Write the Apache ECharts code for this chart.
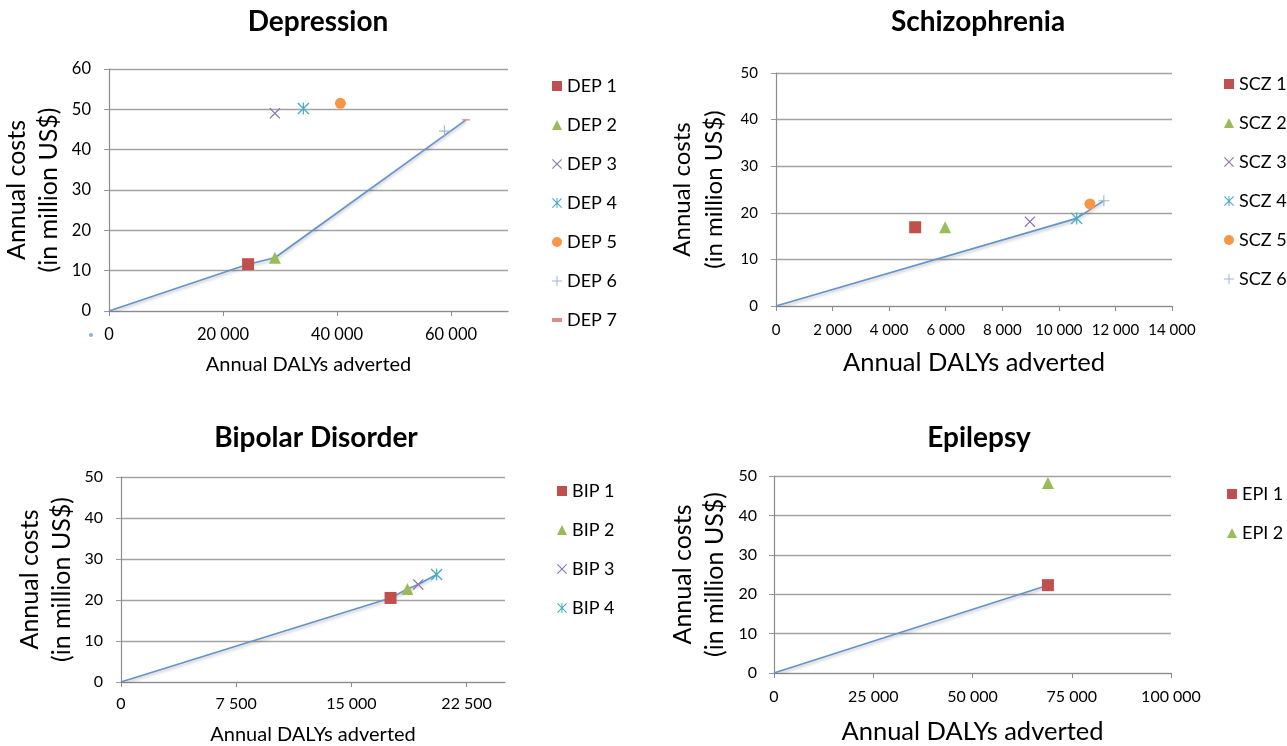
<!DOCTYPE html>
<html><head><meta charset="utf-8">
<script src="https://cdn.jsdelivr.net/npm/echarts@6/dist/echarts.min.js"></script>
<style>html,body{margin:0;padding:0;background:#fff}#c{width:1287px;height:746px}</style>
</head><body><div id="c"></div>
<script>
// ---------- DATA ----------
const depNames = ['DEP 1','DEP 2','DEP 3','DEP 4','DEP 5','DEP 6','DEP 7'];
const depX = [24400, 29100, 29100, 34100, 40600, 58850, 62640];
const depY = [11.6, 13.2, 49.0, 50.2, 51.5, 44.6, 47.4];
const depFrontX = [0, 24400, 29100, 62640];
const depFrontY = [0, 11.6, 13.2, 47.4];
const depXTicks = [0, 20000, 40000, 60000];

const sczNames = ['SCZ 1','SCZ 2','SCZ 3','SCZ 4','SCZ 5','SCZ 6'];
const sczX = [4920, 5980, 8975, 10630, 11100, 11590];
const sczY = [16.9, 16.9, 18.1, 18.8, 21.9, 22.6];
const sczFrontX = [0, 10630, 11590];
const sczFrontY = [0, 18.8, 22.6];
const sczXTicks = [0, 2000, 4000, 6000, 8000, 10000, 12000, 14000];

const bipNames = ['BIP 1','BIP 2','BIP 3','BIP 4'];
const bipX = [17550, 18650, 19350, 20550];
const bipY = [20.5, 22.7, 23.8, 26.2];
const bipFrontX = [0, 17550, 18650, 19350, 20550];
const bipFrontY = [0, 20.5, 22.7, 23.8, 26.2];
const bipXTicks = [0, 7500, 15000, 22500];

const epiNames = ['EPI 1','EPI 2'];
const epiX = [69000, 69000];
const epiY = [22.3, 48.2];
const epiFrontX = [0, 69000];
const epiFrontY = [0, 22.3];
const epiXTicks = [0, 25000, 50000, 75000, 100000];

const yTicks60 = [0, 10, 20, 30, 40, 50, 60];
const yTicks50 = [0, 10, 20, 30, 40, 50];

const titles = ['Depression', 'Schizophrenia', 'Bipolar Disorder', 'Epilepsy'];
const xTitle = 'Annual DALYs adverted';
const yTitle = 'Annual costs\n(in million US$)';

// ---------- STYLE ----------
const FONT = 'Lato, "Open Sans", sans-serif';
const SYM_X = 'path://M1.6,0L10,8.4L18.4,0L20,1.6L11.6,10L20,18.4L18.4,20L10,11.6L1.6,20L0,18.4L8.4,10L0,1.6Z';
const SYM_AST = 'path://M1.6,0L10,8.4L18.4,0L20,1.6L11.6,10L20,18.4L18.4,20L10,11.6L1.6,20L0,18.4L8.4,10L0,1.6Z M9,0H11V20H9Z';
const SYM_PLUS = 'path://M9,0H11V9H20V11H11V20H9V11H0V9H9Z';
const SYM_DASH = 'path://M0,0H20V8H0Z';
const markerStyles = [
  {symbol: 'rect', size: 12, color: '#C0504D'},
  {symbol: 'triangle', size: 12, color: '#9BBB59'},
  {symbol: SYM_X, size: 11, color: '#8C74AE'},
  {symbol: SYM_AST, size: 12, color: '#4BACC6'},
  {symbol: 'circle', size: 11, color: '#F79646'},
  {symbol: SYM_PLUS, size: 11, color: '#9DB6DB'},
  {symbol: SYM_DASH, size: [8, 3.2], color: '#E08A8C'}
];
const LINE_COLOR = '#6393CD';

function fmt(v) { return String(v).replace(/\B(?=(\d{3})+(?!\d))/g, ' '); }

const panels = [
  {names: depNames, xs: depX, ys: depY, fx: depFrontX, fy: depFrontY, xt: depXTicks, yt: yTicks60,
   grid: {left: 108, top: 69, width: 400, height: 242}, xmax: 70000, ymax: 60,
   title: [318, 8], legend: [552, 75], lblFont: 16.5, ymargin: 18, xmargin: 15,
   xNameFont: 20, xNameGap: 44, yNameFont: 25, yNameGap: 44},
  {names: sczNames, xs: sczX, ys: sczY, fx: sczFrontX, fy: sczFrontY, xt: sczXTicks, yt: yTicks50,
   grid: {left: 776, top: 73, width: 396, height: 233}, xmax: 14000, ymax: 50,
   title: [978, 8], legend: [1224, 73], lblFont: 15, ymargin: 18, xmargin: 17,
   xNameFont: 25.5, xNameGap: 44, yNameFont: 24, yNameGap: 46},
  {names: bipNames, xs: bipX, ys: bipY, fx: bipFrontX, fy: bipFrontY, xt: bipXTicks, yt: yTicks50,
   grid: {left: 121, top: 477, width: 384, height: 206}, xmax: 25000, ymax: 50,
   title: [316, 424], legend: [557, 480], lblFont: 16, ymargin: 18, xmargin: 14,
   xNameFont: 20, xNameGap: 43, yNameFont: 25, yNameGap: 43},
  {names: epiNames, xs: epiX, ys: epiY, fx: epiFrontX, fy: epiFrontY, xt: epiXTicks, yt: yTicks50,
   grid: {left: 774, top: 476, width: 397, height: 198}, xmax: 100000, ymax: 50,
   title: [979, 424], legend: [1227, 483], lblFont: 16, ymargin: 17, xmargin: 16,
   xNameFont: 25.5, xNameGap: 46, yNameFont: 25, yNameGap: 43}
];

const option = {
  backgroundColor: '#fff',
  animation: false,
  textStyle: {fontFamily: FONT},
  title: [], grid: [], xAxis: [], yAxis: [], legend: [], series: [],
  graphic: [{
    type: 'circle', left: 89, top: 333, silent: true,
    shape: {r: 2}, style: {fill: '#8FB0DC'}
  }]
};

panels.forEach((p, i) => {
  option.title.push({
    text: titles[i], left: p.title[0], top: p.title[1], textAlign: 'center', padding: 0,
    textStyle: {fontFamily: FONT, fontSize: 28, fontWeight: 'bold', color: '#000'}
  });
  option.grid.push(Object.assign({containLabel: false}, p.grid));
  option.xAxis.push({
    type: 'value', gridIndex: i, min: 0, max: p.xmax,
    name: xTitle, nameLocation: 'middle', nameGap: p.xNameGap,
    nameTextStyle: {fontFamily: FONT, fontSize: p.xNameFont, color: '#000'},
    axisLine: {show: true, lineStyle: {color: '#8c8c8c', width: 1.2}},
    axisTick: {show: true, length: 5, customValues: p.xt, lineStyle: {color: '#8c8c8c'}},
    axisLabel: {customValues: p.xt, formatter: fmt, margin: p.xmargin, color: '#000',
      fontFamily: FONT, fontSize: p.lblFont},
    splitLine: {show: false}
  });
  option.yAxis.push({
    type: 'value', gridIndex: i, min: 0, max: p.ymax, interval: 10,
    name: yTitle, nameLocation: 'middle', nameGap: p.yNameGap,
    nameTextStyle: {fontFamily: FONT, fontSize: p.yNameFont, lineHeight: 32, color: '#000'},
    axisLine: {show: true, lineStyle: {color: '#8c8c8c', width: 1.2}},
    axisTick: {show: true, length: 5, lineStyle: {color: '#999'}},
    axisLabel: {margin: p.ymargin, color: '#000', fontFamily: FONT, fontSize: p.lblFont},
    splitLine: {show: true, lineStyle: {color: '#a3a3a3', width: 1.3}}
  });
  option.legend.push({
    orient: 'vertical', left: p.legend[0], top: p.legend[1], padding: 0,
    itemWidth: 10, itemHeight: 10, itemGap: 17,
    textStyle: {fontFamily: FONT, fontSize: 18, lineHeight: 22, color: '#000'},
    data: p.names.slice()
  });
  option.series.push({
    type: 'line', xAxisIndex: i, yAxisIndex: i, silent: true, symbol: 'none',
    data: p.fx.map((x, k) => [x, p.fy[k]]), z: 2,
    lineStyle: {color: LINE_COLOR, width: 1.6, shadowColor: 'rgba(0,0,0,0.25)', shadowBlur: 3, shadowOffsetY: 2}
  });
  p.names.forEach((n, k) => {
    const st = markerStyles[k];
    option.series.push({
      type: 'scatter', name: n, xAxisIndex: i, yAxisIndex: i, z: 3,
      symbol: st.symbol, symbolSize: st.size, symbolKeepAspect: true,
      itemStyle: {color: st.color, opacity: 1},
      data: [[p.xs[k], p.ys[k]]]
    });
  });
});

const chart = echarts.init(document.getElementById('c'), null, {renderer: 'canvas'});
chart.setOption(option);
</script>
</body></html>
